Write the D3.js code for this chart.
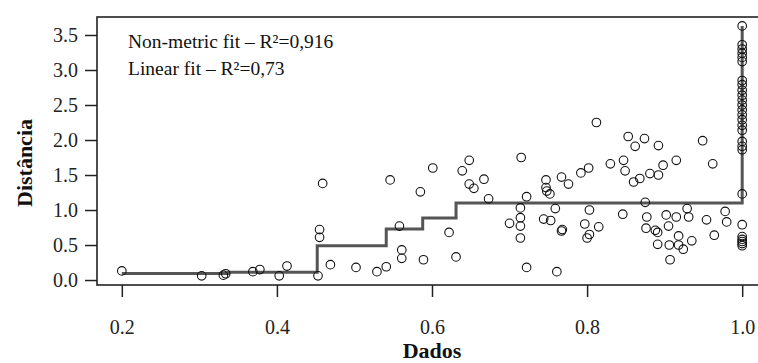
<!DOCTYPE html>
<html>
<head>
<meta charset="utf-8">
<script src="https://cdn.jsdelivr.net/npm/d3@7"></script>
<style>
  body { margin: 0; background: #fff; }
  text { font-family: "Liberation Serif", "DejaVu Serif", serif; }
</style>
</head>
<body>
<div id="chart"></div>
<script>
// observed dissimilarities (Dados) and ordination distances (Distância)
const dados = [
  0.200, 0.303, 0.331, 0.334, 0.369, 0.378, 0.403, 0.413, 0.453, 0.455,
  0.455, 0.459, 0.469, 0.502, 0.529, 0.541, 0.546, 0.558, 0.561, 0.561,
  0.585, 0.589, 0.601, 0.622, 0.631, 0.639, 0.648, 0.648, 0.654, 0.667,
  0.673, 0.700, 0.714, 0.714, 0.714, 0.714, 0.715, 0.722, 0.722, 0.747,
  0.747, 0.748, 0.752, 0.744, 0.753, 0.759, 0.761, 0.767, 0.776, 0.767,
  0.768, 0.792, 0.802, 0.797, 0.803, 0.815, 0.803, 0.800, 0.812, 0.830,
  0.846, 0.847, 0.849, 0.853, 0.860, 0.862, 0.868, 0.874, 0.875, 0.877,
  0.876, 0.881, 0.888, 0.891, 0.891, 0.892, 0.892, 0.898, 0.902, 0.905,
  0.906, 0.907, 0.915, 0.915, 0.918, 0.918, 0.924, 0.929, 0.931, 0.935,
  0.949, 0.954, 0.962, 0.964, 0.978, 0.980,
  1, 1, 1, 1, 1, 1, 1, 1, 1, 1, 1, 1, 1, 1, 1, 1, 1, 1, 1, 1, 1, 1, 1, 1, 1, 1, 1
];
const distancia = [
  0.13, 0.06, 0.07, 0.09, 0.12, 0.15, 0.06, 0.20, 0.06, 0.72,
  0.61, 1.38, 0.22, 0.18, 0.12, 0.19, 1.43, 0.77, 0.43, 0.31,
  1.26, 0.29, 1.60, 0.68, 0.33, 1.56, 1.71, 1.37, 1.31, 1.44,
  1.16, 0.81, 1.03, 0.89, 0.77, 0.60, 1.75, 1.19, 0.18, 1.43,
  1.32, 1.27, 1.23, 0.87, 0.85, 1.02, 0.12, 1.47, 1.37, 0.70,
  0.72, 1.53, 1.60, 0.80, 1.00, 0.76, 0.65, 0.60, 2.25, 1.66,
  0.94, 1.71, 1.56, 2.05, 1.40, 1.91, 1.45, 2.02, 1.11, 0.90,
  0.74, 1.52, 0.71, 0.68, 0.51, 1.50, 1.92, 1.64, 0.93, 0.77,
  0.50, 0.29, 0.90, 1.71, 0.63, 0.50, 0.44, 1.02, 0.90, 0.56,
  1.99, 0.86, 1.66, 0.64, 0.98, 0.83,
  3.63, 3.36, 3.30, 3.24, 3.18, 3.12, 2.85, 2.79, 2.71, 2.64, 2.57, 2.50, 2.43, 2.36,
  2.29, 2.21, 2.14, 1.98, 1.91, 1.86, 1.23, 0.79, 0.62, 0.58, 0.55, 0.52, 0.49
];

// monotone (non-metric) fit, drawn as a step line
const fitX = [0.200, 0.337, 0.452, 0.541, 0.588, 0.631, 1.000];
const fitY = [0.095, 0.110, 0.490, 0.730, 0.885, 1.100, 3.630];

const xTicks = [0.2, 0.4, 0.6, 0.8, 1.0];
const yTicks = [0.0, 0.5, 1.0, 1.5, 2.0, 2.5, 3.0, 3.5];
const legendLines = ["Non-metric fit \u2013 R\u00b2=0,916", "Linear fit \u2013 R\u00b2=0,73"];

const width = 758;
const height = 363;
const margin = { top: 17, right: -9, bottom: 78, left: 97 };
const innerWidth = width - margin.left - margin.right;
const innerHeight = height - margin.top - margin.bottom;

const svg = d3.select("#chart").append("svg")
  .attr("width", width)
  .attr("height", height);

const x = d3.scaleLinear()
  .domain([0.168, 1.032])
  .range([margin.left, margin.left + innerWidth]);

const y = d3.scaleLinear()
  .domain([-0.071, 3.757])
  .range([margin.top + innerHeight, margin.top]);

// step line (R type = "S")
const fitPts = fitX.map((d, i) => [d, fitY[i]]);
svg.append("path")
  .datum(fitPts)
  .attr("fill", "none")
  .attr("stroke", "#555")
  .attr("stroke-width", 3)
  .attr("d", d3.line().x(d => x(d[0])).y(d => y(d[1])).curve(d3.curveStepAfter));

// points
svg.append("g")
  .selectAll("circle")
  .data(dados.map((d, i) => [d, distancia[i]]))
  .join("circle")
  .attr("cx", d => x(d[0]))
  .attr("cy", d => y(d[1]))
  .attr("r", 4.3)
  .attr("fill", "none")
  .attr("stroke", "#111")
  .attr("stroke-width", 1.1);

// box
svg.append("rect")
  .attr("x", margin.left)
  .attr("y", margin.top)
  .attr("width", innerWidth)
  .attr("height", innerHeight)
  .attr("fill", "none")
  .attr("stroke", "#222")
  .attr("stroke-width", 1.6);

// axes
const yAxis = svg.append("g")
  .attr("transform", `translate(${margin.left},0)`)
  .call(d3.axisLeft(y).tickValues(yTicks).tickFormat(d3.format(".1f")).tickSize(12).tickPadding(7));
yAxis.select(".domain").remove();
yAxis.selectAll("line").attr("stroke", "#222").attr("stroke-width", 1.5);
yAxis.selectAll("text").style("font-size", "20px").attr("fill", "#222")
  .style("font-family", "'Liberation Serif', serif");

const xAxis = svg.append("g")
  .attr("transform", `translate(0,${margin.top + innerHeight})`)
  .call(d3.axisBottom(x).tickValues(xTicks).tickFormat(d3.format(".1f")).tickSize(12).tickPadding(23));
xAxis.select(".domain").remove();
xAxis.selectAll("line").attr("stroke", "#222").attr("stroke-width", 1.5);
xAxis.selectAll("text").style("font-size", "20px").attr("fill", "#222")
  .style("font-family", "'Liberation Serif', serif");

// axis titles
svg.append("text")
  .attr("x", margin.left + innerWidth / 2)
  .attr("y", 358)
  .attr("text-anchor", "middle")
  .style("font-size", "22px")
  .style("font-weight", "bold")
  .attr("fill", "#111")
  .text("Dados");

svg.append("text")
  .attr("transform", `translate(32,${margin.top + innerHeight / 2 + 12}) rotate(-90)`)
  .attr("text-anchor", "middle")
  .style("font-size", "22px")
  .style("font-weight", "bold")
  .attr("fill", "#111")
  .text("Distância");

// fit statistics
svg.append("g")
  .selectAll("text")
  .data(legendLines)
  .join("text")
  .attr("x", 128)
  .attr("y", (d, i) => 48 + i * 27)
  .style("font-size", "19.5px")
  .attr("fill", "#111")
  .text(d => d);
</script>
</body>
</html>
